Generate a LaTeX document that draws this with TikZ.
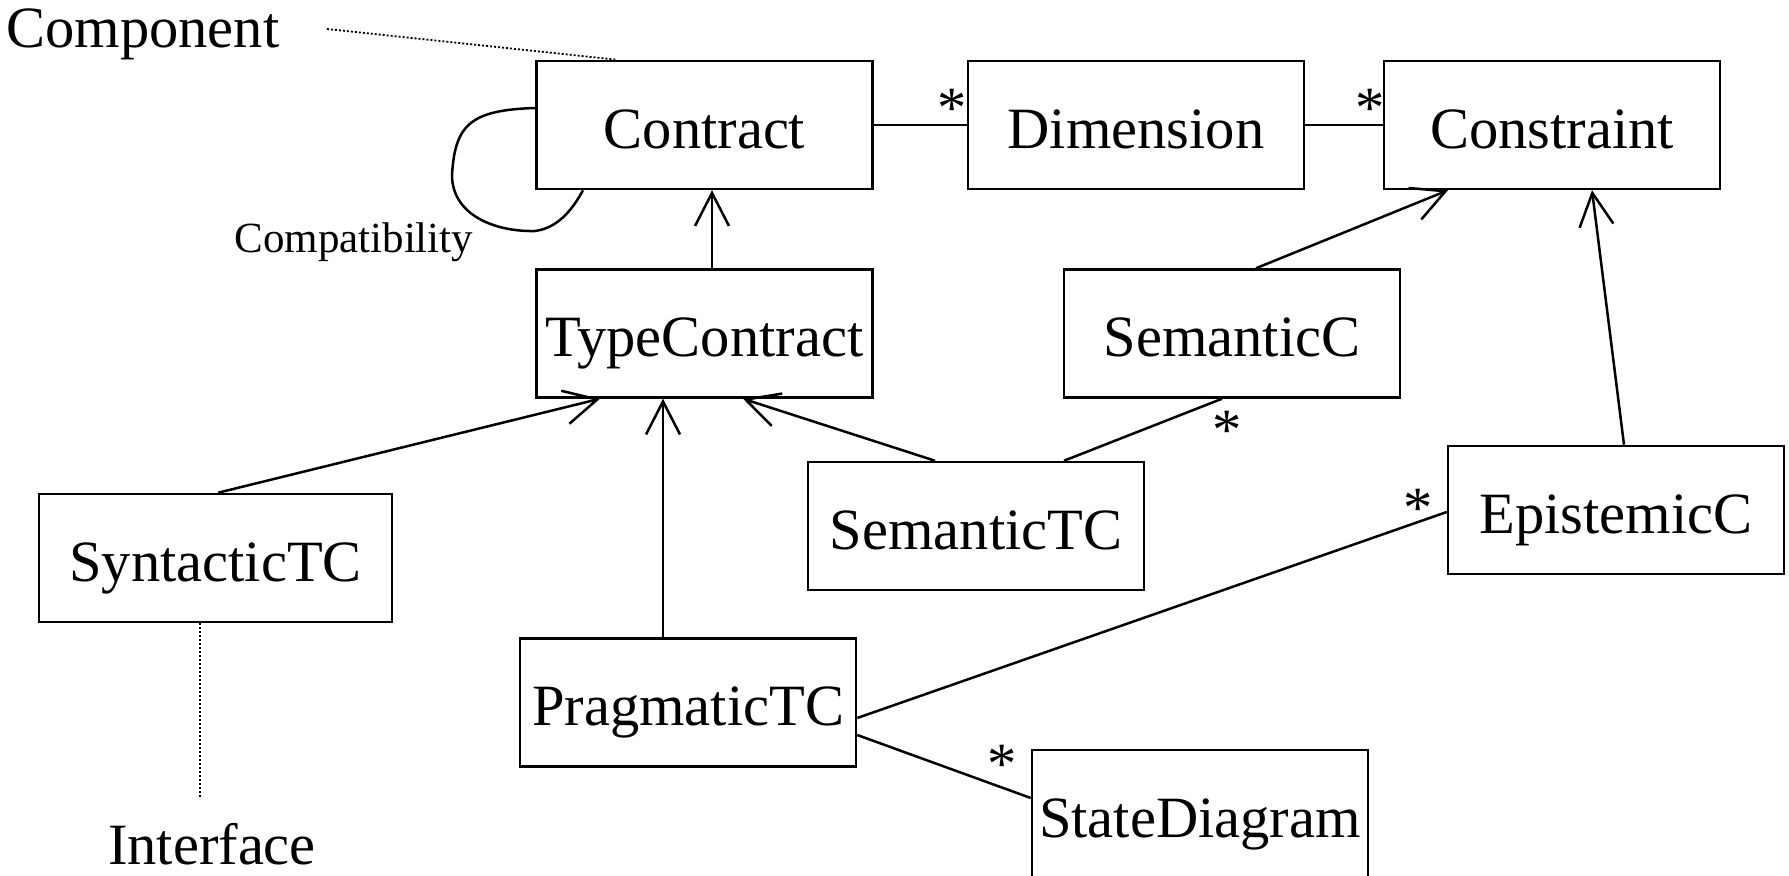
\documentclass[tikz,border=0pt]{standalone}
\usepackage{fontspec}
\setmainfont{Liberation Serif}
\usetikzlibrary{arrows.meta,calc}
\tikzset{
  cls/.style={draw, line width=1.25pt, inner sep=0pt, minimum width=168pt, minimum height=64pt,
    text height=23.1pt, text depth=0pt, font=\fontsize{29.25pt}{35pt}\selectfont},
  lbl/.style={inner sep=0pt, font=\fontsize{29.25pt}{35pt}\selectfont},
  small/.style={inner sep=0pt, font=\fontsize{21.5pt}{26pt}\selectfont},
  star/.style={inner sep=0pt, anchor=base, font=\fontsize{29.25pt}{35pt}\selectfont},
  conn/.style={line width=1.25pt},
  gen/.style={line width=1.25pt, -{Straight Barb[length=16.5pt, width=17pt]}},
  dots/.style={line width=0.9pt, dash pattern=on 1pt off 1pt}
}
\begin{document}
\begin{tikzpicture}[x=0.5pt, y=-0.5pt]
\useasboundingbox (0,0) rectangle (1789,876);
% classes
\node[cls] (contract) at (704.5,125) {Contract};
\node[cls] (dimension) at (1136,125) {Dimension};
\node[cls] (constraint) at (1552,125) {Constraint};
\node[cls] (typecontract) at (704.5,333.5) {TypeContract};
\node[cls] (semanticc) at (1232,333.5) {SemanticC};
\node[cls] (semantictc) at (976,526) {SemanticTC};
\node[cls, minimum width=176.5pt] (syntactictc) at (215.5,558) {SyntacticTC};
\node[cls] (pragmatictc) at (688,702.5) {PragmaticTC};
\node[cls] (epistemicc) at (1616,510) {EpistemicC};
\node[cls] (statediagram) at (1200,814) {StateDiagram};
% free labels
\node[lbl, anchor=base west] (component) at (6,48) {Component};
\node[lbl, anchor=base] (interface) at (212,864) {Interface};
\node[small, anchor=base west] (compat) at (234,253) {Compatibility};
\coordinate (compend) at (327,29);
\coordinate (ifend) at (200,799);
% associations
\draw[conn] (contract.east) -- (dimension.west);
\draw[conn] (dimension.east) -- (constraint.west);
\draw[conn] ($(semantictc.north)+(88,0)$) -- ($(semanticc.south)+(-10,0)$);
\draw[conn] ($(pragmatictc.east)+(0,15.5)$) -- ($(epistemicc.west)+(0,2)$);
\draw[conn] ($(pragmatictc.east)+(0,32.5)$) -- ($(statediagram.west)+(0,-16)$);
% generalizations
\draw[gen] ($(typecontract.north)+(7.5,0)$) -- ($(contract.south)+(7.5,0)$);
\draw[gen] ($(syntactictc.north)+(2.5,0)$) -- ($(typecontract.south)+(-104.5,0)$);
\draw[gen] ($(pragmatictc.north)+(-25,0)$) -- ($(typecontract.south)+(-41.5,0)$);
\draw[gen] ($(semantictc.north)+(-41,0)$) -- ($(typecontract.south)+(38.5,0)$);
\draw[gen] ($(semanticc.north)+(24,0)$) -- ($(constraint.south)+(-104,0)$);
\draw[gen] ($(epistemicc.north)+(8,0)$) -- ($(constraint.south)+(40,0)$);
% self association
\draw[conn] ($(contract.west)+(0,-17)$) .. controls (470,110) and (455,125) .. (452,175)
  .. controls (452,215) and (495,232) .. (535,231)
  .. controls (560,228) and (575,205) .. ($(contract.south)+(-121.5,0)$);
% dotted links
\draw[dots] (compend) -- ($(contract.north)+(-87.5,0)$);
\draw[dots] ($(syntactictc.south)+(-15.5,0)$) -- (ifend);
% multiplicities
\node[star] (s1) at (952,127.5) {*};
\node[star] (s2) at (1370,127.5) {*};
\node[star] (s3) at (1227,449.5) {*};
\node[star] (s4) at (1418,527.5) {*};
\node[star] (s5) at (1002,783.5) {*};
\end{tikzpicture}
\end{document}
